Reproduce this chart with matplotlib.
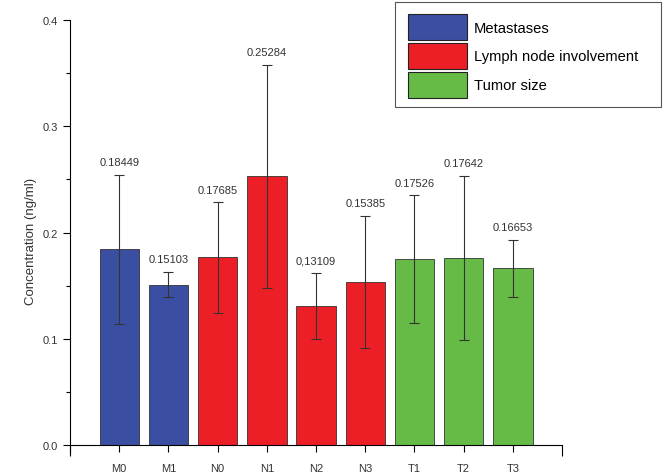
import numpy as np
import matplotlib.pyplot as plt
from matplotlib.patches import Patch, Rectangle
from matplotlib.ticker import MultipleLocator

categories = ["M0", "M1", "N0", "N1", "N2", "N3", "T1", "T2", "T3"]
values = [0.18449, 0.15103, 0.17685, 0.25284, 0.13109, 0.15385, 0.17526, 0.17642, 0.16653]
errors = [0.070, 0.012, 0.052, 0.105, 0.031, 0.062, 0.060, 0.077, 0.027]
labels = ["0.18449", "0.15103", "0.17685", "0.25284", "0,13109", "0.15385", "0.17526", "0.17642", "0.16653"]
groups = ["Metastases", "Metastases", "Lymph node involvement", "Lymph node involvement",
          "Lymph node involvement", "Lymph node involvement", "Tumor size", "Tumor size", "Tumor size"]

group_names = ["Metastases", "Lymph node involvement", "Tumor size"]
group_colors = {"Metastases": "#3a4fa2", "Lymph node involvement": "#ed1f26", "Tumor size": "#66bb46"}

plt.rcParams['font.family'] = ['Liberation Sans', 'DejaVu Sans']

fig = plt.figure(figsize=(6.7, 4.77), dpi=100)
ax = fig.add_axes([0.1045, 0.031, 0.7345, 0.925])

x = np.arange(1, len(categories) + 1)
colors = [group_colors[g] for g in groups]
ax.bar(x, values, width=0.8, color=colors, edgecolor="#333333", linewidth=0.6, zorder=2)
ax.errorbar(x, values, yerr=errors, fmt="none", ecolor="#333333", elinewidth=0.8,
            capsize=3.5, capthick=0.8, zorder=3)

for xi, v, e, lab in zip(x, values, errors, labels):
    ax.text(xi, v + e + 0.007, lab, ha="center", va="bottom", fontsize=8, color="#333333")

ax.set_xlim(0, 10)
ax.set_ylim(-0.015, 0.4)
ax.spines["top"].set_visible(False)
ax.spines["right"].set_visible(False)
ax.spines["bottom"].set_position(("data", 0))
ax.spines["left"].set_bounds(-0.006, 0.4)

ax.set_yticks([0.0, 0.1, 0.2, 0.3, 0.4])
ax.set_yticklabels(["0.0", "0.1", "0.2", "0.3", "0.4"], fontsize=8, color="#333333")
ax.yaxis.set_minor_locator(MultipleLocator(0.05))
ax.tick_params(axis="y", which="major", direction="out", length=5, width=0.8)
ax.tick_params(axis="y", which="minor", direction="out", length=3, width=0.8)

ax.set_xticks(x)
ax.set_xticklabels(categories, fontsize=8, color="#333333")
ax.set_xticks([0, 10], minor=True)
ax.tick_params(axis="x", which="major", direction="out", length=5, width=0.8, pad=8)
ax.tick_params(axis="x", which="minor", direction="out", length=8, width=0.8)

ax.set_ylabel("Concentration (ng/ml)", fontsize=9.5, color="#333333", labelpad=4)

# legend frame drawn separately (Origin-style box with wide right margin)
fig.patches.append(Rectangle((0.5896, 0.7736), 0.397, 0.220, transform=fig.transFigure,
                             facecolor="white", edgecolor="#555555", linewidth=0.8, zorder=5))
handles = [Patch(facecolor=group_colors[g], edgecolor="#222222", linewidth=0.8) for g in group_names]
leg = fig.legend(handles, group_names, loc="upper left", bbox_to_anchor=(408 / 670, 1 - 15 / 477),
                 fontsize=10.6, handlelength=4.0, handleheight=2.33, handletextpad=0.45,
                 labelspacing=0.2, borderpad=0, borderaxespad=0, frameon=False)
leg.set_zorder(6)

fig.savefig("out.png", dpi=100)
